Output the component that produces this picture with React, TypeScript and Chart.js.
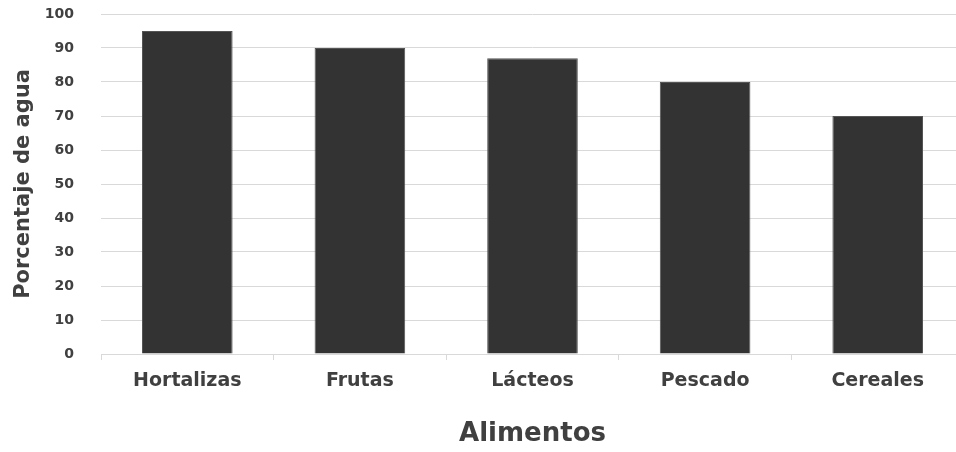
import React, { useEffect, useRef } from "react";
import { Chart, registerables } from "chart.js";

Chart.register(...registerables);

const categories = ["Hortalizas", "Frutas", "Lácteos", "Pescado", "Cereales"];
const waterPercent = [95, 90, 87, 80, 70];
const yTicks = [0, 10, 20, 30, 40, 50, 60, 70, 80, 90, 100];
const yTitle = "Porcentaje de agua";
const xTitle = "Alimentos";

const FONT = "'DejaVu Sans', Verdana, sans-serif";
const TEXT = "#404040";
const GRID = "#d9d9d9";

export default function App() {
  const ref = useRef<HTMLCanvasElement | null>(null);

  useEffect(() => {
    document.body.style.margin = "0";
    const chart = new Chart(ref.current as HTMLCanvasElement, {
      type: "bar",
      data: {
        labels: categories,
        datasets: [
          {
            data: waterPercent,
            backgroundColor: "#333333",
            borderColor: "#555555",
            borderWidth: 1,
            barPercentage: 0.525,
            categoryPercentage: 1,
          },
        ],
      },
      options: {
        animation: false,
        responsive: true,
        maintainAspectRatio: false,
        layout: { padding: { top: 14, left: 0, right: 0, bottom: 0 } },
        plugins: { legend: { display: false }, tooltip: { enabled: false } },
        scales: {
          x: {
            offset: true,
            grid: {
              drawOnChartArea: false,
              drawTicks: true,
              tickLength: 6,
              color: GRID,
              offset: true,
            },
            border: { display: true, color: GRID, width: 1 },
            ticks: {
              color: TEXT,
              padding: 10,
              font: { family: FONT, size: 19, weight: "bold" },
            },
            title: {
              display: true,
              text: xTitle,
              color: TEXT,
              font: { family: FONT, size: 26, weight: "bold" },
              padding: { top: 0, bottom: 2 },
            },
            afterFit: (scale: any) => {
              scale.height = 98;
            },
          },
          y: {
            min: 0,
            max: 100,
            afterBuildTicks: (scale: any) => {
              scale.ticks = yTicks.map((v) => ({ value: v }));
            },
            grid: {
              color: GRID,
              drawTicks: true,
              tickLength: 27,
              tickColor: "rgba(0,0,0,0)",
              lineWidth: 1,
            },
            border: { display: false },
            ticks: {
              color: TEXT,
              padding: 0,
              font: { family: FONT, size: 14, weight: "bold" },
            },
            title: {
              display: true,
              text: yTitle,
              color: TEXT,
              font: { family: FONT, size: 21, weight: "bold" },
              padding: { top: 11, bottom: 0 },
            },
            afterFit: (scale: any) => {
              scale.width = 101;
            },
          },
        },
      },
    });
    return () => chart.destroy();
  }, []);

  return (
    <div style={{ position: "fixed", left: 0, top: 0, width: 956, height: 452, overflow: "hidden", background: "#fff" }}>
      <div style={{ width: 964, height: 452, position: "relative" }}>
        <canvas ref={ref} />
      </div>
    </div>
  );
}
